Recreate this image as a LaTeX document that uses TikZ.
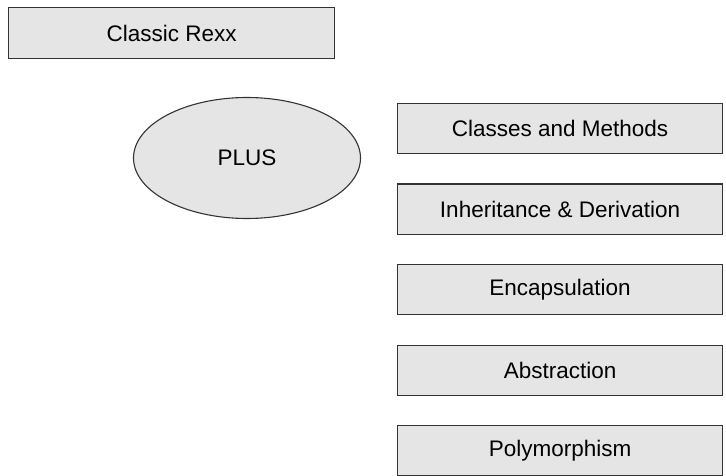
\documentclass[tikz,border=0pt]{standalone}
\usepackage{fontspec}
\setmainfont{Liberation Sans}
\usetikzlibrary{positioning,shapes.geometric}

\begin{document}
\begin{tikzpicture}[
		x=1pt, y=1pt,
		node distance=29.4pt,
		every node/.style={draw=black!80, fill=black!10, line width=1.1pt, inner sep=0pt, font=\fontsize{22.5}{27}\selectfont},
		topic/.style={rectangle, minimum width=325pt, minimum height=50pt}
	]
	\useasboundingbox (0,0) rectangle (726,-476);

	\node[rectangle, minimum width=326pt, minimum height=51pt, anchor=north west] (rexx) at (8,-7) {Classic Rexx};
	\node[ellipse, minimum width=227pt, minimum height=121pt] (plus) at (247,-158) {PLUS};

	\node[topic, anchor=north west] (classes) at (397,-103) {Classes and Methods};
	\node[topic, below=of classes] (inherit) {Inheritance \& Derivation};
	\node[topic, below=of inherit] (encaps) {Encapsulation};
	\node[topic, below=of encaps] (abstr) {Abstraction};
	\node[topic, below=of abstr] (poly) {Polymorphism};
\end{tikzpicture}
\end{document}
